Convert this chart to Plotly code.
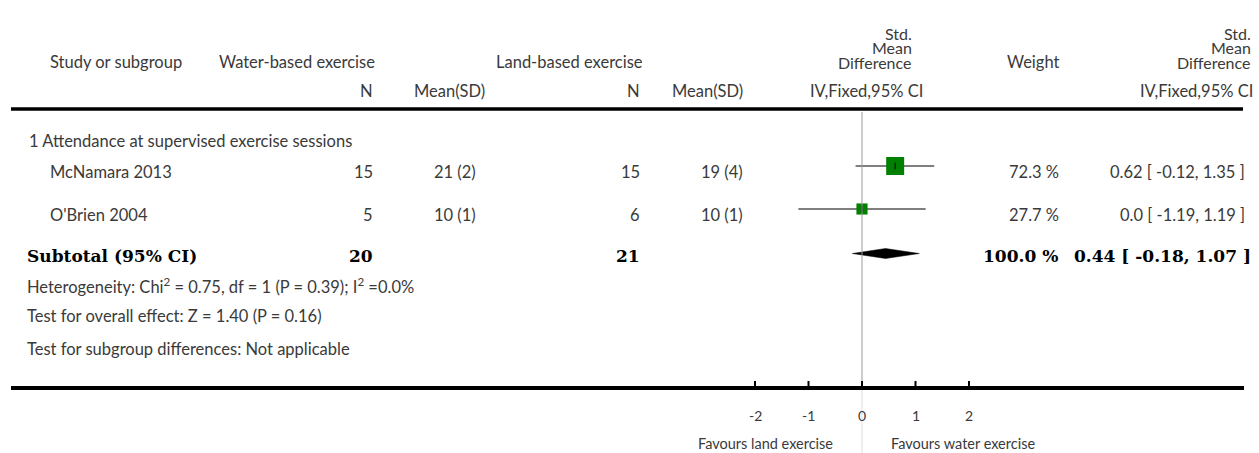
import plotly.graph_objects as go

# ---------------- data ----------------
studies = ["McNamara 2013", "O'Brien 2004"]
water_n = [15, 5]
water_mean_sd = ["21 (2)", "10 (1)"]
land_n = [15, 6]
land_mean_sd = ["19 (4)", "10 (1)"]
smd = [0.62, 0.0]
ci_lo = [-0.12, -1.19]
ci_hi = [1.35, 1.19]
weights = [72.3, 27.7]

subgroup_title = "1 Attendance at supervised exercise sessions"
sub_water_n = 20
sub_land_n = 21
sub_smd = 0.44
sub_lo = -0.18
sub_hi = 1.07
sub_weight = 100.0

footer_lines = [
    "Heterogeneity: Chi<sup>2</sup> = 0.75, df = 1 (P = 0.39); I<sup>2</sup> =0.0%",
    "Test for overall effect: Z = 1.40 (P = 0.16)",
    "Test for subgroup differences: Not applicable",
]
tick_vals = [-2, -1, 0, 1, 2]
tick_labels = ["-2", "-1", "0", "1", "2"]
favours_left = "Favours land exercise"
favours_right = "Favours water exercise"

# ---------------- layout constants ----------------
W, H = 1259, 453
X0PX, UNIT = 862, 53.5
FONT = "Lato"
SERIF = "DejaVu Serif"
TXT = "#3a3a3a"
FS = 16.5      # text
NS = 16.5      # numbers
BS = 17        # bold serif subtotal

row_text_y = [172, 215]
row_mark_y = [166, 209]
sub_y = 256
sub_mark_y = 253.5
title_y = 141
footer_y = [286, 316, 349]
axis_y = 388
header_line_y = 109

fig = go.Figure()
ann = []


def t(text, px, py, anchor="left", size=FS, font=FONT, bold=False, color=TXT):
    if bold:
        text = "<b>" + text + "</b>"
    ann.append(dict(text=text, x=px / W, y=py, xref="paper", yref="y",
                    xanchor=anchor, yanchor="middle", showarrow=False,
                    font=dict(family=font, size=size, color=color)))


# header
t("Study or subgroup", 48, 62)
t("Water-based exercise", 217, 62)
t("Land-based exercise", 494, 62)
t("N", 375, 91, "right")
t("Mean(SD)", 487, 91, "right")
t("N", 642, 91, "right")
t("Mean(SD)", 745, 91, "right")
for txt, yy in [("Std.", 33), ("Mean", 47.5), ("Difference", 62)]:
    t(txt, 914, yy, "right", size=16)
    t(txt, 1253, yy, "right", size=16)
t("IV,Fixed,95% CI", 925, 91, "right", size=NS)
t("Weight", 1061, 62, "right")
t("IV,Fixed,95% CI", 1255, 91, "right", size=NS)

# subgroup title & rows
t(subgroup_title, 27, title_y)
for i, s in enumerate(studies):
    y = row_text_y[i]
    t(s, 48, y)
    t(str(water_n[i]), 375, y, "right", size=NS)
    t(water_mean_sd[i], 478, y, "right", size=NS)
    t(str(land_n[i]), 642, y, "right", size=NS)
    t(land_mean_sd[i], 745, y, "right", size=NS)
    t(f"{weights[i]} %", 1061, y, "right", size=NS)
    t(f"{smd[i]} [ {ci_lo[i]}, {ci_hi[i]} ]", 1247, y, "right", size=NS)

# subtotal
t("Subtotal (95% CI)", 25, sub_y, size=BS, font=SERIF, bold=True, color="#000")
t(str(sub_water_n), 375, sub_y, "right", size=BS, font=SERIF, bold=True, color="#000")
t(str(sub_land_n), 642, sub_y, "right", size=BS, font=SERIF, bold=True, color="#000")
t(f"{sub_weight} %", 1060, sub_y, "right", size=BS, font=SERIF, bold=True, color="#000")
t(f"{sub_smd} [ {sub_lo}, {sub_hi} ]", 1253, sub_y, "right", size=BS, font=SERIF, bold=True, color="#000")

for line, yy in zip(footer_lines, footer_y):
    t(line, 25, yy)

# axis labels
for v, lab in zip(tick_vals, tick_labels):
    ann.append(dict(text=lab, x=v, y=415, xref="x", yref="y", xanchor="center",
                    yanchor="middle", showarrow=False,
                    font=dict(family=FONT, size=14, color=TXT)))
t(favours_left, 835, 443, "right", size=14.5)
t(favours_right, 889, 443, "left", size=14.5)

# ---------------- marks ----------------
for i in range(len(studies)):
    fig.add_trace(go.Scatter(x=[ci_lo[i], ci_hi[i]], y=[row_mark_y[i]] * 2,
                             mode="lines", line=dict(color="#555555", width=1.5),
                             hoverinfo="skip", showlegend=False))
fig.add_trace(go.Scatter(x=smd, y=row_mark_y, mode="markers",
                         marker=dict(symbol="square", color="#008000", opacity=1,
                                     size=[2.117 * (w ** 0.5) for w in weights],
                                     line=dict(width=0)),
                         hoverinfo="skip", showlegend=False))
fig.add_trace(go.Scatter(x=smd, y=row_mark_y, mode="markers",
                         marker=dict(symbol="line-ns", size=5, opacity=1,
                                     line=dict(color="#000", width=1)),
                         hoverinfo="skip", showlegend=False))
fig.add_trace(go.Scatter(x=[sub_lo, sub_smd, sub_hi, sub_smd, sub_lo],
                         y=[sub_mark_y, sub_mark_y - 5, sub_mark_y, sub_mark_y + 5, sub_mark_y],
                         mode="lines", fill="toself", fillcolor="#000",
                         line=dict(color="#000", width=0.5),
                         hoverinfo="skip", showlegend=False))

shapes = []
shapes.append(dict(type="line", xref="paper", yref="y", x0=11 / W, x1=1243 / W,
                   y0=header_line_y, y1=header_line_y, line=dict(color="#000", width=3.5)))
shapes.append(dict(type="line", xref="paper", yref="y", x0=11 / W, x1=1244 / W,
                   y0=axis_y, y1=axis_y, line=dict(color="#000", width=4)))
shapes.append(dict(type="line", xref="x", yref="y", x0=0, x1=0, y0=112, y1=axis_y,
                   line=dict(color="#999999", width=1)))
shapes.append(dict(type="line", xref="x", yref="y", x0=0, x1=0, y0=axis_y + 2, y1=H,
                   line=dict(color="#dddddd", width=1)))
for v in tick_vals:
    shapes.append(dict(type="line", xref="x", yref="y", x0=v, x1=v, y0=381, y1=axis_y,
                       line=dict(color="#000", width=2)))

fig.update_layout(
    width=W, height=H, margin=dict(l=0, r=0, t=0, b=0),
    paper_bgcolor="white", plot_bgcolor="white",
    xaxis=dict(range=[-X0PX / UNIT, (W - X0PX) / UNIT], domain=[0, 1], visible=False,
               fixedrange=True),
    yaxis=dict(range=[H, 0], domain=[0, 1], visible=False, fixedrange=True),
    annotations=ann, shapes=shapes, showlegend=False,
)

fig.write_html("out.html")
